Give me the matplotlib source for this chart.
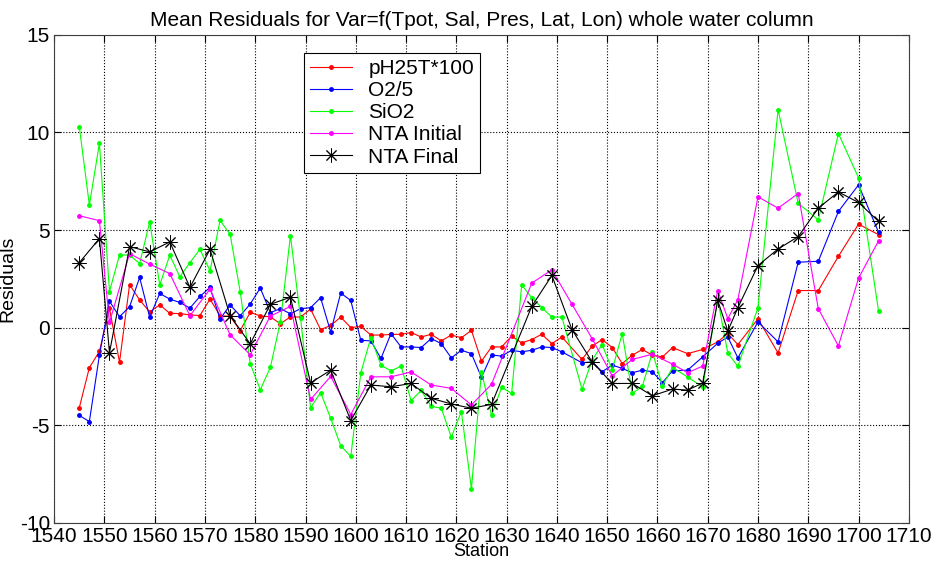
import numpy as np
import matplotlib.pyplot as plt

plt.rcParams['font.family'] = ['Liberation Sans', 'DejaVu Sans']
plt.rcParams['axes.unicode_minus'] = False

# stations where pH, O2 and SiO2 were sampled
stations = [1545, 1547, 1549, 1551, 1553, 1555, 1557, 1559, 1561, 1563,
            1565, 1567, 1569, 1571, 1573, 1575, 1577, 1579, 1581, 1583,
            1585, 1587, 1589, 1591, 1593, 1595, 1597, 1599, 1601, 1603,
            1605, 1607, 1609, 1611, 1613, 1615, 1617, 1619, 1621, 1623,
            1625, 1627, 1629, 1631, 1633, 1635, 1637, 1639, 1641, 1645,
            1647, 1649, 1651, 1653, 1655, 1657, 1659, 1661, 1663, 1666,
            1669, 1672, 1674, 1676, 1680, 1684, 1688, 1692, 1696, 1700, 1704]

ph = [-4.1, -2.05, -1.22, 0.98, -1.77, 2.2, 1.42, 0.8, 1.17, 0.73,
      0.72, 0.65, 0.62, 1.46, 0.61, 0.58, -0.15, 0.78, 0.6, 0.55,
      0.2, 0.55, 0.54, 0.95, -0.1, 0.11, 0.54, 0.0, 0.06, -0.38,
      -0.38, -0.35, -0.34, -0.25, -0.48, -0.34, -0.68, -0.38, -0.52, -0.14,
      -1.72, -0.99, -0.99, -0.44, -0.78, -0.61, -0.34, -0.82, -0.48, -1.63,
      -0.95, -0.61, -1.02, -1.84, -1.41, -1.12, -1.41, -1.5, -1.02, -1.33,
      -1.12, -0.73, -0.3, -0.87, 0.45, -1.3, 1.9, 1.9, 3.65, 5.3, 4.76]

o2 = [-4.5, -4.81, -1.41, 1.35, 0.56, 1.07, 2.57, 0.53, 1.75, 1.46,
      1.29, 1.0, 1.6, 2.06, 0.44, 1.16, 0.61, 1.21, 2.03, 0.77,
      0.97, 0.71, 0.97, 1.02, 1.53, -0.22, 1.77, 1.39, -0.65, -0.68,
      -1.58, -0.31, -0.99, -0.99, -1.02, -0.56, -0.82, -1.55, -1.16, -1.33,
      -2.55, -1.4, -1.46, -1.16, -1.24, -1.16, -0.99, -1.02, -1.24, -1.8,
      -1.75, -2.26, -1.92, -2.09, -2.31, -2.18, -2.26, -2.82, -2.21, -2.18,
      -1.5, -0.8, -0.48, -1.55, 0.29, -0.73, 3.35, 3.4, 5.95, 7.31, 4.88]

sio2 = [10.29, 6.28, 9.44, 1.85, 3.72, 3.72, 3.28, 5.41, 2.19, 3.71,
        2.6, 3.33, 4.01, 2.91, 5.49, 4.78, 1.85, -1.85, -3.18, -2.04,
        0.3, 4.71, 0.5, -4.1, -3.33, -4.64, -6.05, -6.6, -2.31, -0.51,
        -1.92, -2.22, -1.97, -3.74, -3.22, -4.03, -4.13, -5.61, -4.3, -8.26,
        -2.25, -4.5, -3.06, -3.37, 2.19, 1.53, 1.03, 0.54, 0.54, -3.16,
        -1.67, -0.87, -2.16, -0.31, -3.37, -3.01, -1.26, -2.99, -2.04, -2.53,
        -3.04, 1.45, -1.31, -1.98, 1.02, 11.17, 6.37, 5.52, 9.94, 7.68, 0.83]

# stations with alkalinity
nta_stations = [1545, 1549, 1551, 1555, 1559, 1563, 1567, 1571, 1575, 1579,
                1583, 1587, 1591, 1595, 1599, 1603, 1607, 1611, 1615, 1619,
                1623, 1627, 1635, 1639, 1643, 1647, 1651, 1655, 1659, 1663,
                1666, 1669, 1672, 1674, 1676, 1680, 1684, 1688, 1692, 1696,
                1700, 1704]

nta_initial = [5.73, 5.48, 0.27, 3.79, 3.25, 2.77, 0.61, 1.97, -0.37, -1.39,
               0.59, 1.09, -3.68, -2.5, -4.45, -2.52, -2.52, -2.27, -2.94, -3.11,
               -3.96, -2.9, 2.28, 2.96, 1.2, -0.56, -2.47, -1.63, -1.36, -1.87,
               -2.31, -1.97, 1.9, 0.46, 1.43, 6.7, 6.12, 6.87, 0.97, -0.94,
               2.53, 4.45]

nta_final = [3.33, 4.56, -1.29, 4.15, 3.88, 4.39, 2.06, 4.01, 0.61, -0.83,
             1.19, 1.56, -2.83, -2.18, -4.76, -2.94, -3.03, -2.86, -3.62, -3.91,
             -4.13, -3.93, 1.09, 2.67, -0.1, -1.75, -2.86, -2.86, -3.49, -3.15,
             -3.2, -2.84, 1.39, -0.17, 1.02, 3.18, 4.03, 4.66, 6.12, 6.95,
             6.41, 5.44]

fig = plt.figure(figsize=(9.34, 5.61), dpi=100)
ax = fig.add_axes([0.058, 0.068, 0.915, 0.87])

lw = 0.8
ax.plot(stations, ph, color='#ff0000', marker='.', markersize=5, lw=lw, label='pH25T*100')
ax.plot(stations, o2, color='#0000ff', marker='.', markersize=5, lw=lw, label='O2/5')
ax.plot(stations, sio2, color='#00ff00', marker='.', markersize=5, lw=lw, label='SiO2')
ax.plot(nta_stations, nta_initial, color='#ff00ff', marker='.', markersize=5, lw=lw, label='NTA Initial')
# 8-armed asterisk like the MATLAB '*' marker
ax.plot(nta_stations, nta_final, color='black', marker=(8, 2, 0), markersize=10,
        markeredgewidth=0.7, lw=lw, label='NTA Final')

ax.set_xlim(1540, 1710)
ax.set_ylim(-10, 15)
ax.set_xticks(np.arange(1540, 1711, 10))
ax.set_yticks(np.arange(-10, 16, 5))
ax.grid(True, linestyle=':', color='black', linewidth=0.8)
ax.tick_params(direction='in', top=True, right=True, labelsize=15, length=5, pad=3)
for s in ax.spines.values():
    s.set_color('#404040')

ax.set_title('Mean Residuals for Var=f(Tpot, Sal, Pres, Lat, Lon) whole water column', fontsize=15)
ax.set_xlabel('Station', fontsize=13)
ax.xaxis.set_label_coords(0.5, -0.042)
ax.set_ylabel('Residuals', fontsize=14)
ax.yaxis.set_label_coords(-0.044, 0.5)

leg = ax.legend(loc='upper left', bbox_to_anchor=(0.292, 0.963), borderaxespad=0,
                fontsize=15, fancybox=False, framealpha=1, edgecolor='black',
                handlelength=2.0, labelspacing=0.15, borderpad=0.3)
leg.get_frame().set_linewidth(0.8)

fig.savefig('out.png', dpi=100)
